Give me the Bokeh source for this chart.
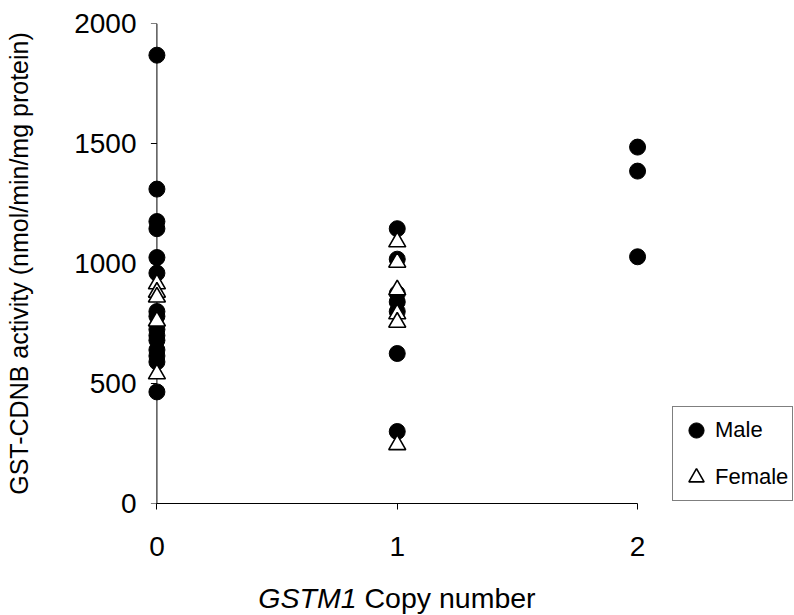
from bokeh.plotting import figure
from bokeh.models import (Range1d, FixedTicker, Legend, LegendItem, LinearAxis)
from bokeh.layouts import column
from bokeh.core.properties import value
from bokeh.embed import file_html
from bokeh.resources import INLINE

# ---- data ----
male_x0 = [1868, 1310, 1175, 1145, 1025, 960, 800, 780, 725, 700, 680, 640, 615, 590, 465]
female_x0 = [915, 880, 860, 760, 540]
male_x1 = [1145, 1018, 875, 840, 800, 625, 300]
female_x1 = [1090, 1005, 890, 790, 755, 245]
male_x2 = [1485, 1385, 1028]

male_x = [0] * len(male_x0) + [1] * len(male_x1) + [2] * len(male_x2)
male_y = male_x0 + male_x1 + male_x2
female_x = [0] * len(female_x0) + [1] * len(female_x1)
female_y = female_x0 + female_x1

x_ticks = [0, 1, 2]
y_ticks = [0, 500, 1000, 1500, 2000]
x_title_parts = ["GSTM1", "Copy number"]

FONT = "Liberation Sans"
PX_PER_X = 240.25   # screen px per x unit
X0_PX = 156.5       # screen x of data x=0

xr = Range1d(-0.06, 2.653)
p = figure(width=794, height=575, output_backend="svg", toolbar_location=None,
           x_range=xr, y_range=Range1d(0, 2000),
           min_border_left=142, min_border_right=0, min_border_top=23, min_border_bottom=72,
           x_axis_type=None, y_axis_type=None)
p.grid.visible = False
p.outline_line_color = None
p.background_fill_color = "white"
p.border_fill_color = "white"

# x axis (line limited to 0..2)
xa = LinearAxis(ticker=FixedTicker(ticks=x_ticks), bounds=(0, 2))
xa.axis_line_color = "black"
xa.axis_line_width = 1
xa.major_tick_in = 0
xa.major_tick_out = 6
xa.minor_tick_line_color = None
xa.major_label_text_font = FONT
xa.major_label_text_font_size = "28px"
xa.major_label_text_color = "black"
xa.major_label_standoff = 27
p.add_layout(xa, "below")

# y axis (labels from axis; line + ticks drawn at x=0)
ya = LinearAxis(ticker=FixedTicker(ticks=y_ticks))
ya.axis_line_color = None
ya.major_tick_line_color = None
ya.major_tick_in = 0
ya.major_tick_out = 0
ya.minor_tick_line_color = None
ya.major_label_text_font = FONT
ya.major_label_text_font_size = "28px"
ya.major_label_text_color = "black"
ya.major_label_standoff = 6
ya.axis_label = "GST-CDNB activity (nmol/min/mg protein)"
ya.axis_label_text_font = FONT
ya.axis_label_text_font_style = "normal"
ya.axis_label_text_font_size = "25px"
ya.axis_label_text_color = "black"
ya.axis_label_standoff = 38
p.add_layout(ya, "left")

tick_len = 6 / PX_PER_X
p.segment(x0=[0], x1=[0], y0=[y_ticks[0]], y1=[y_ticks[-1]], line_color="black", line_width=1)
p.segment(x0=[-tick_len] * len(y_ticks), x1=[0] * len(y_ticks), y0=y_ticks, y1=y_ticks,
          line_color="black", line_width=1)

# data
r_m = p.scatter(male_x, male_y, marker="circle", size=16, fill_color="black", line_color="black")
r_f = p.scatter(female_x, female_y, marker="triangle", size=17, fill_color="white",
                line_color="black", line_width=1.6)

legend = Legend(items=[LegendItem(label="Male", renderers=[r_m]),
                       LegendItem(label="Female", renderers=[r_f])],
                location=(530, 2))
legend.label_text_font = FONT
legend.label_text_font_size = "22px"
legend.label_text_color = "black"
legend.glyph_width = 38
legend.glyph_height = 38
legend.label_height = 38
legend.label_standoff = 0
legend.padding = 4
legend.spacing = 9
legend.margin = 0
legend.border_line_color = "black"
legend.border_line_width = 1
legend.background_fill_alpha = 1
p.add_layout(legend, "center")

# x-axis title strip (italic gene name + normal text), sharing the x scale
p2 = figure(width=794, height=40, output_backend="svg", toolbar_location=None,
            x_range=xr, y_range=Range1d(0, 1),
            min_border_left=142, min_border_right=0, min_border_top=0, min_border_bottom=0,
            x_axis_type=None, y_axis_type=None)
p2.grid.visible = False
p2.outline_line_color = None
p2.background_fill_color = "white"
p2.border_fill_color = "white"
italic_end = (356 - X0_PX) / PX_PER_X
normal_start = (364 - X0_PX) / PX_PER_X
p2.text(x=[italic_end], y=[0.45], text=[x_title_parts[0]], text_font=value(FONT),
        text_font_style="italic", text_font_size=value("28.5px"), text_color="black",
        text_align="right", text_baseline="middle")
p2.text(x=[normal_start], y=[0.45], text=[x_title_parts[1]], text_font=value(FONT),
        text_font_style="normal", text_font_size=value("28.5px"), text_color="black",
        text_align="left", text_baseline="middle")

layout = column(p, p2, spacing=0)
open("out.html", "w").write(file_html(layout, INLINE))
